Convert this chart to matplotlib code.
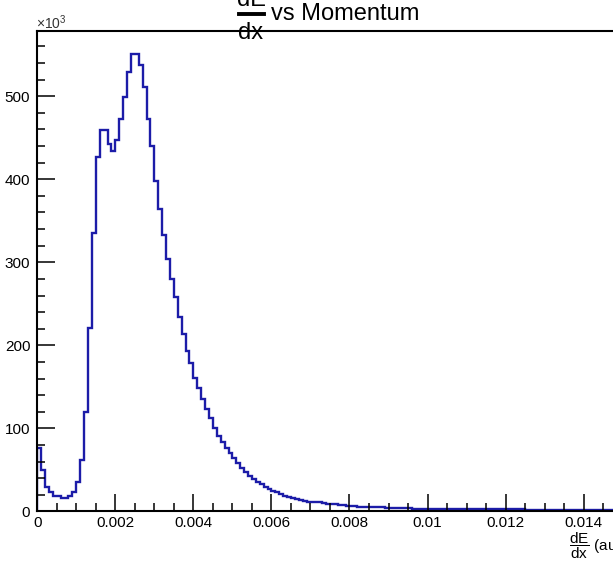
import numpy as np
import matplotlib
matplotlib.use("Agg")
import matplotlib.pyplot as plt
from matplotlib.lines import Line2D
from matplotlib.ticker import MultipleLocator

# dE/dx histogram, counts in units of 10^3, bin width 0.0001
BIN_WIDTH = 0.0001
counts_k = [
    76, 50, 29, 24, 19, 19, 16, 16, 19, 24,
    36, 62, 120, 221, 335, 427, 459, 459, 442, 434,
    447, 473, 499, 529, 551, 551, 537, 511, 472, 440,
    398, 364, 333, 304, 280, 258, 234, 214, 193, 179,
    161, 149, 136, 123, 113, 101, 91, 84, 76, 70,
    64, 58, 52, 47, 43, 39, 35, 33, 30, 27,
    25, 23, 21, 19, 17, 16, 15, 14, 13, 12,
    12, 11, 11, 10, 9, 9, 9, 8, 8, 7,
    7, 7, 6, 6, 5, 5, 5, 5, 5, 4,
    4, 4, 4, 4, 4, 4, 3, 3, 3, 3,
    3, 3, 3, 3, 3, 3, 3, 3, 3, 3,
    2.5, 2.5, 2.5, 2.5, 2.5, 2.5, 2.5, 2.5, 2.5, 2.5,
    2.5, 2.5, 2.5, 2.5, 2.5, 2, 2, 2, 2, 2,
    2, 2, 2, 2, 2, 2, 2, 2, 2, 2,
    2, 2, 2, 2, 2, 2, 2, 2, 2, 2,
]
xticks = [0, 0.002, 0.004, 0.006, 0.008, 0.010, 0.012, 0.014]
xtick_labels = ["0", "0.002", "0.004", "0.006", "0.008", "0.01", "0.012", "0.014"]
yticks = [0, 100, 200, 300, 400, 500]

plt.rcParams["font.family"] = ["Liberation Sans", "DejaVu Sans"]
plt.rcParams["mathtext.fontset"] = "custom"
plt.rcParams["mathtext.rm"] = "Liberation Sans"
plt.rcParams["mathtext.it"] = "Liberation Sans:italic"
plt.rcParams["mathtext.bf"] = "Liberation Sans:bold"

W, H = 613, 564
fig = plt.figure(figsize=(W / 100, H / 100), dpi=100)
# axes run past the right edge of the picture, like the original
ax = fig.add_axes([0.0608, 0.0931, 0.955, 0.852])

edges = np.arange(len(counts_k) + 1) * BIN_WIDTH
ax.stairs(counts_k, edges, color="#1c1ca8", lw=1.7)

ax.set_xlim(0, edges[-1])
ax.set_ylim(0, 1.05 * max(counts_k))

ax.set_xticks(xticks)
ax.set_xticklabels(xtick_labels)
ax.set_yticks(yticks)
ax.xaxis.set_minor_locator(MultipleLocator(0.0005))
ax.yaxis.set_minor_locator(MultipleLocator(20))

ax.tick_params(axis="x", which="major", direction="in", length=12, width=1.1,
               labelsize=11, pad=3)
ax.tick_params(axis="x", which="minor", direction="in", length=6, width=1.1)
ax.tick_params(axis="y", which="major", direction="in", length=13, width=1.1,
               labelsize=11, pad=5)
ax.tick_params(axis="y", which="minor", direction="in", length=6, width=1.1)
ax.tick_params(top=False, right=False, which="both")

for side in ["left", "bottom", "top", "right"]:
    ax.spines[side].set_linewidth(1.5)

fig.text(36 / W, 1 - 28.5 / H, r"$\times\mathrm{10^{3}}$", fontsize=10,
         va="baseline", ha="left", color="#333333")

# title, ROOT style fraction (numerator runs off the top of the canvas)
fig.text(251 / W, 1 - 6 / H, "dE", fontsize=17, va="baseline", ha="center")
fig.add_artist(Line2D([239 / W, 264 / W], [1 - 14 / H, 1 - 14 / H],
                      transform=fig.transFigure, color="black", lw=2.8))
fig.text(251 / W, 1 - 39 / H, "dx", fontsize=17, va="baseline", ha="center")
fig.text(271 / W, 1 - 20 / H, "vs Momentum",
         fontsize=17, va="baseline", ha="left")

fig.text(622 / W, 18 / H, r"$\dfrac{\mathrm{dE}}{\mathrm{dx}}$ (au)",
         fontsize=11, va="center", ha="right")

fig.savefig("out.png", dpi=100)
